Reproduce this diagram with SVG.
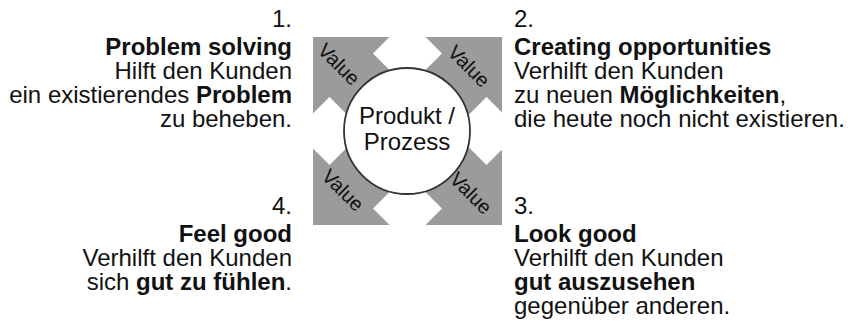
<svg xmlns="http://www.w3.org/2000/svg" width="855" height="333" viewBox="0 0 855 333">
  <style>
    text { font-family: "Liberation Sans", Arial, Helvetica, sans-serif; fill: #111; }
    .body { font-size: 24px; }
    .b { font-weight: bold; }
    .value { font-size: 20px; text-anchor: middle; dominant-baseline: central; }
    .left { text-anchor: end; }
    .right { text-anchor: start; }
  </style>
  <defs>
    <clipPath id="sq">
      <rect x="313" y="37" width="189" height="188"/>
    </clipPath>
  </defs>
  <rect width="855" height="333" fill="#ffffff"/>

  <!-- central value square -->
  <g id="core">
    <rect x="313" y="37" width="189" height="188" fill="#9b9b9b"/>
    <g clip-path="url(#sq)" fill="#ffffff">
      <polygon points="407.5,19 442,53.5 407.5,88 373,53.5"/>
      <polygon points="407.5,174 442,208.5 407.5,243 373,208.5"/>
      <polygon points="329.5,97 363.5,131 329.5,165 295.5,131"/>
      <polygon points="486.5,97 520.5,131 486.5,165 452.5,131"/>
    </g>
    <text class="value" transform="translate(339,64) rotate(45)">Value</text>
    <text class="value" transform="translate(469,66) rotate(45)">Value</text>
    <text class="value" transform="translate(343,190) rotate(45)">Value</text>
    <text class="value" transform="translate(471,193) rotate(45)">Value</text>
    <circle cx="407" cy="131" r="63" fill="#ffffff" stroke="#333333" stroke-width="1.8"/>
    <text class="body" x="407" y="124" text-anchor="middle">Produkt /</text>
    <text class="body" x="407" y="150" text-anchor="middle">Prozess</text>
  </g>

  <!-- 1. Problem solving -->
  <g id="problem-solving">
    <text class="body left" x="292" y="27">1.</text>
    <text class="body left b" x="292" y="55">Problem solving</text>
    <text class="body left" x="292" y="79">Hilft den Kunden</text>
    <text class="body left" x="292" y="103">ein existierendes <tspan class="b">Problem</tspan></text>
    <text class="body left" x="292" y="127">zu beheben.</text>
  </g>

  <!-- 2. Creating opportunities -->
  <g id="creating-opportunities">
    <text class="body right" x="514" y="27">2.</text>
    <text class="body right b" x="514" y="55">Creating opportunities</text>
    <text class="body right" x="514" y="79">Verhilft den Kunden</text>
    <text class="body right" x="514" y="103">zu neuen <tspan class="b">Möglichkeiten</tspan>,</text>
    <text class="body right" x="514" y="127">die heute noch nicht existieren.</text>
  </g>

  <!-- 4. Feel good -->
  <g id="feel-good">
    <text class="body left" x="292" y="214">4.</text>
    <text class="body left b" x="292" y="242">Feel good</text>
    <text class="body left" x="292" y="266">Verhilft den Kunden</text>
    <text class="body left" x="292" y="290">sich <tspan class="b">gut zu fühlen</tspan>.</text>
  </g>

  <!-- 3. Look good -->
  <g id="look-good">
    <text class="body right" x="514" y="214">3.</text>
    <text class="body right b" x="514" y="242">Look good</text>
    <text class="body right" x="514" y="266">Verhilft den Kunden</text>
    <text class="body right b" x="514" y="290">gut auszusehen</text>
    <text class="body right" x="514" y="314">gegenüber anderen.</text>
  </g>
</svg>
